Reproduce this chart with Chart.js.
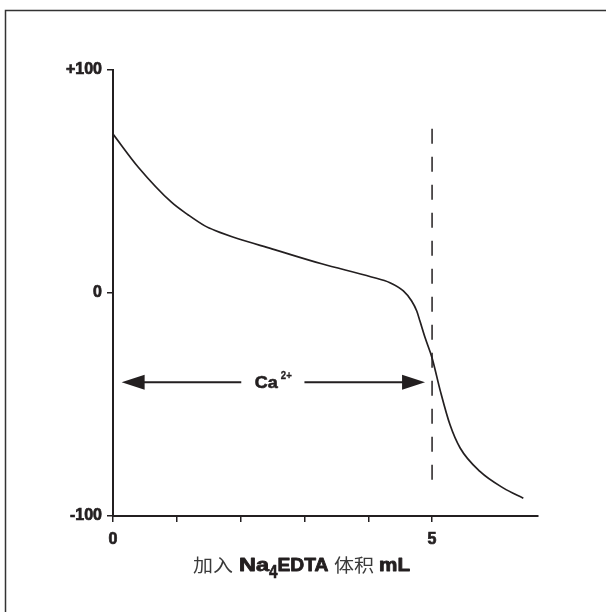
<!DOCTYPE html>
<html>
<head>
<meta charset="utf-8">
<script src="https://cdn.jsdelivr.net/npm/chart.js@4.4.1/dist/chart.umd.min.js"></script>
<style>
  html, body { margin: 0; padding: 0; background: #fff; }
  canvas { display: block; }
</style>
</head>
<body>
<canvas id="c" width="606" height="612"></canvas>
<script>
// ---- data ----
const volumeML = [0, 0.4, 0.92, 1.18, 1.44, 1.6, 1.96, 2.49, 3.27, 4.05, 4.34, 4.55, 4.68, 4.76, 4.81, 4.89, 5.0, 5.13, 5.28, 5.44, 5.75, 6.12, 6.43];
const potential = [71.3, 56.3, 40.6, 35.0, 30.1, 28.0, 24.3, 19.8, 13.1, 7.2, 4.6, 0.9, -3.6, -8.1, -12.6, -20, -29.1, -44, -59, -69.5, -80, -87.5, -92];
const endpointX = [5, 5];
const endpointY = [73.7, -88];
const yTickValues = [-100, 0, 100];
const yTickLabels = ['-100', '0', '+100'];
const xTickValues = [0, 1, 2, 3, 4, 5];
const xTickLabels = ['0', '', '', '', '', '5'];
const arrowX = [0.135, 4.89];
const arrowY = -40;
const arrowGapX = [2.01, 3.0];
const arrowLabel = 'Ca';
const arrowLabelSup = '2+';

const INK = '#231f20';
const FONT = '"Liberation Sans", Arial, sans-serif';

const curveData = volumeML.map((x, i) => ({ x, y: potential[i] }));
const dashData = endpointX.map((x, i) => ({ x, y: endpointY[i] }));

function fitText(ctx, text, font, x, w, baseline, color, stroke, vscale) {
  ctx.font = font;
  const m = ctx.measureText(text).width;
  ctx.save();
  ctx.translate(x, baseline);
  ctx.scale(w / m, vscale || 1);
  ctx.textAlign = 'left';
  ctx.textBaseline = 'alphabetic';
  ctx.fillStyle = color;
  ctx.fillText(text, 0, 0);
  if (stroke) {
    ctx.strokeStyle = color;
    ctx.lineWidth = stroke;
    ctx.lineJoin = 'round';
    ctx.strokeText(text, 0, 0);
  }
  ctx.restore();
}

const decorPlugin = {
  id: 'decor',
  beforeDraw(chart) {
    const ctx = chart.ctx;
    ctx.save();
    ctx.fillStyle = '#fff';
    ctx.fillRect(0, 0, chart.width, chart.height);
    ctx.strokeStyle = '#333';
    ctx.lineWidth = 1.5;
    ctx.strokeRect(5.5, 10.5, 800, 800);
    ctx.restore();
  },
  afterDraw(chart) {
    const ctx = chart.ctx;
    const xs = chart.scales.x, ys = chart.scales.y;
    ctx.save();
    // arrow
    const y = ys.getPixelForValue(arrowY);
    const xl = xs.getPixelForValue(arrowX[0]);
    const xr = xs.getPixelForValue(arrowX[1]);
    const g1 = xs.getPixelForValue(arrowGapX[0]);
    const g2 = xs.getPixelForValue(arrowGapX[1]);
    const hl = 23, hh = 7.5;
    ctx.strokeStyle = INK;
    ctx.fillStyle = INK;
    ctx.lineWidth = 2;
    ctx.beginPath();
    ctx.moveTo(xl + hl - 2, y); ctx.lineTo(g1, y);
    ctx.moveTo(g2, y); ctx.lineTo(xr - hl + 2, y);
    ctx.stroke();
    ctx.beginPath();
    ctx.moveTo(xl, y); ctx.lineTo(xl + hl, y - hh); ctx.lineTo(xl + hl, y + hh); ctx.closePath();
    ctx.fill();
    ctx.beginPath();
    ctx.moveTo(xr, y); ctx.lineTo(xr - hl, y - hh); ctx.lineTo(xr - hl, y + hh); ctx.closePath();
    ctx.fill();
    // label
    const mid = (g1 + g2) / 2;
    fitText(ctx, arrowLabel, 'bold 17px ' + FONT, mid - 18, 23, y + 5.5, INK, 0.6);
    fitText(ctx, arrowLabelSup, 'bold 11px ' + FONT, mid + 8, 11, y - 3.5, INK, 0.3);

    // axis title
    const base = 571;
    fitText(ctx, '加入', '18px "Noto Sans CJK SC"', 193, 40, base + 1, '#3a3a3a');
    fitText(ctx, 'Na', 'bold 18px ' + FONT, 239, 30, base, INK, 0.8, 1.05);
    fitText(ctx, '4', 'bold 18px ' + FONT, 269, 8.5, base + 7, INK, 0.6);
    fitText(ctx, 'EDTA', 'bold 18px ' + FONT, 277.5, 51, base, INK, 0.8, 1.05);
    fitText(ctx, '体积', '18px "Noto Sans CJK SC"', 334, 40, base + 1, '#3a3a3a');
    fitText(ctx, 'mL', 'bold 18px ' + FONT, 379, 31, base, INK, 0.8, 1.05);
    ctx.restore();
  }
};

new Chart(document.getElementById('c'), {
  type: 'scatter',
  data: {
    datasets: [
      {
        data: curveData,
        showLine: true,
        borderColor: INK,
        borderWidth: 1.7,
        pointRadius: 0,
        cubicInterpolationMode: 'monotone',
        fill: false
      },
      {
        data: dashData,
        showLine: true,
        borderColor: INK,
        borderWidth: 1.5,
        borderDash: [15, 13],
        pointRadius: 0,
        fill: false
      }
    ]
  },
  options: {
    responsive: false,
    animation: false,
    devicePixelRatio: 1,
    layout: { padding: { left: 0, right: 68, top: 70, bottom: 0 } },
    plugins: { legend: { display: false }, tooltip: { enabled: false } },
    scales: {
      x: {
        type: 'linear',
        min: 0,
        max: 6.66,
        afterFit(s) { s.height = 96; },
        afterBuildTicks(s) { s.ticks = xTickValues.map(v => ({ value: v })); },
        border: { display: true, color: INK, width: 2 },
        grid: { display: true, drawOnChartArea: false, drawTicks: true, tickLength: 6, color: INK, lineWidth: 1.5 },
        ticks: {
          autoSkip: false,
          maxRotation: 0,
          padding: 8,
          color: INK,
          textStrokeColor: INK,
          textStrokeWidth: 0.7,
          font: { family: FONT, size: 16, weight: 'bold' },
          callback(v) { const i = xTickValues.indexOf(v); return i >= 0 ? xTickLabels[i] : ''; }
        }
      },
      y: {
        type: 'linear',
        min: -100,
        max: 100,
        afterFit(s) { s.width = 113; },
        afterBuildTicks(s) { s.ticks = yTickValues.map(v => ({ value: v })); },
        border: { display: true, color: INK, width: 2 },
        grid: { display: true, drawOnChartArea: false, drawTicks: true, tickLength: 6, color: INK, lineWidth: 1.5 },
        ticks: {
          autoSkip: false,
          padding: 5,
          color: INK,
          textStrokeColor: INK,
          textStrokeWidth: 0.7,
          font: { family: FONT, size: 16, weight: 'bold' },
          callback(v) { const i = yTickValues.indexOf(v); return i >= 0 ? yTickLabels[i] : ''; }
        }
      }
    }
  },
  plugins: [decorPlugin]
});
</script>
</body>
</html>
